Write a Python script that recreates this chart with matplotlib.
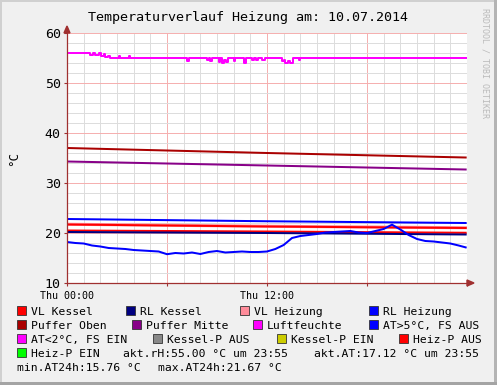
import numpy as np
import matplotlib
matplotlib.use("Agg")
import matplotlib.pyplot as plt
from matplotlib.patches import Rectangle, Polygon

W, H = 497, 385

# hours after Thu 00:00 (10.07.2014)
t_slow = [0.0, 12.0, 23.92]
rl_heizung = [22.8, 22.35, 22.0]
vl_heizung = [21.75, 21.35, 21.05]
vl_kessel = [21.7, 21.3, 21.0]
heiz_p_aus = [20.5, 20.3, 20.05]
rl_kessel = [20.2, 20.0, 19.7]
puffer_oben = [37.0, 36.0, 35.1]
puffer_mitte = [34.3, 33.5, 32.7]

# outside temperature
t_at = [0.0, 0.5, 1.0, 1.5, 2.0, 2.5, 3.0, 3.5, 4.0, 4.5, 5.0, 5.5,
        6.0, 6.5, 7.0, 7.5, 8.0, 8.5, 9.0, 9.5, 10.0, 10.5, 11.0, 11.5,
        12.0, 12.5, 13.0, 13.5, 14.0, 14.5, 15.0, 15.5, 16.0, 16.5, 17.0, 17.5,
        18.0, 18.5, 19.0, 19.5, 20.0, 20.5, 21.0, 21.5, 22.0, 22.5, 23.0, 23.5, 23.92]
aussen = [18.2, 18.0, 17.9, 17.5, 17.3, 17.0, 16.9, 16.8, 16.6, 16.5, 16.4, 16.3,
          15.76, 16.0, 15.9, 16.1, 15.8, 16.2, 16.4, 16.1, 16.2, 16.3, 16.2, 16.2,
          16.3, 16.8, 17.6, 19.0, 19.4, 19.6, 19.8, 20.1, 20.2, 20.3, 20.4, 20.1,
          20.0, 20.4, 20.8, 21.67, 20.7, 19.6, 18.8, 18.4, 18.3, 18.1, 17.9, 17.5, 17.12]

# relative humidity (step values)
t_rh = [0.0, 1.35, 1.55, 1.7, 1.9, 2.05, 2.2, 2.3, 2.45, 2.6, 3.1, 3.2, 3.7, 3.8,
        7.2, 7.3, 8.4, 8.5, 8.6, 8.7, 9.1, 9.2, 9.3, 9.45, 9.55, 9.65, 10.0, 10.1,
        10.65, 10.75, 11.1, 11.25, 11.35, 11.45, 11.7, 11.85, 12.9, 13.0, 13.1, 13.25,
        13.4, 13.55, 13.9, 14.0, 23.92]
rh = [56.0, 55.6, 56.0, 55.6, 56.0, 55.5, 55.8, 55.2, 55.5, 55.0, 55.4, 55.0, 55.4, 55.0,
      54.5, 55.0, 54.6, 55.0, 54.5, 55.0, 54.3, 55.0, 54.0, 54.6, 54.2, 55.0, 54.5, 55.0,
      54.0, 55.0, 54.6, 55.0, 54.7, 55.0, 54.7, 55.0, 54.4, 54.6, 54.0, 54.5,
      54.1, 55.0, 54.7, 55.0, 55.0]

legend_names = ["VL Kessel", "RL Kessel", "VL Heizung", "RL Heizung",
                "Puffer Oben", "Puffer Mitte", "Luftfeuchte", "AT>5°C, FS AUS",
                "AT<2°C, FS EIN", "Kessel-P AUS", "Kessel-P EIN", "Heiz-P AUS",
                "Heiz-P EIN"]
colors = {
    "VL Kessel": "#FF0000", "RL Kessel": "#000080", "VL Heizung": "#FF8C9A",
    "RL Heizung": "#0000FF", "Puffer Oben": "#AA0000", "Puffer Mitte": "#880088",
    "Luftfeuchte": "#FF00FF", "AT>5°C, FS AUS": "#0000FF", "AT<2°C, FS EIN": "#FF00FF",
    "Kessel-P AUS": "#888888", "Kessel-P EIN": "#CCCC00", "Heiz-P AUS": "#FF0000",
    "Heiz-P EIN": "#00FF00",
}

plt.rcParams['font.family'] = ['DejaVu Sans Mono', 'DejaVu Sans']


def px(x, y):
    return x / W, 1 - y / H


fig = plt.figure(figsize=(W / 100, H / 100), dpi=100, facecolor="#F0F0F0")
ax = fig.add_axes([67 / W, (H - 283) / H, 400 / W, 250 / H])
ax.set_facecolor("white")

lw = 1.44
ax.plot(t_slow, puffer_oben, color=colors["Puffer Oben"], lw=lw)
ax.plot(t_slow, puffer_mitte, color=colors["Puffer Mitte"], lw=lw)
ax.plot(t_slow, vl_heizung, color=colors["VL Heizung"], lw=2.2)
ax.plot(t_slow, vl_kessel, color=colors["VL Kessel"], lw=lw)
ax.plot(t_slow, heiz_p_aus, color=colors["Heiz-P AUS"], lw=lw)
ax.plot(t_slow, rl_kessel, color=colors["RL Kessel"], lw=lw)
ax.plot(t_slow, rl_heizung, color=colors["RL Heizung"], lw=lw)
ax.plot(t_at, aussen, color="#0000FF", lw=lw)
ax.plot(t_rh, rh, color=colors["Luftfeuchte"], lw=lw, drawstyle="steps-post")

ax.set_xlim(0, 24)
ax.set_ylim(10, 60)
ax.set_xticks(np.arange(0, 25, 6))
ax.set_xticks(np.arange(0, 25, 1), minor=True)
ax.set_xticklabels(["Thu 00:00", "", "Thu 12:00", "", ""])
ax.set_yticks(np.arange(10, 61, 10))
ax.set_yticks(np.arange(10, 61, 2), minor=True)
ax.grid(which="minor", color="#DDDDDD", lw=0.72)
ax.grid(which="major", color="#F5B0B0", lw=0.72)
ax.set_axisbelow(True)

axis_col = "#A03030"
for s in ("top", "right"):
    ax.spines[s].set_visible(False)
for s in ("left", "bottom"):
    ax.spines[s].set_color(axis_col)
    ax.spines[s].set_linewidth(0.9)
ax.tick_params(which="minor", length=0)
ax.tick_params(which="major", length=2.5, width=0.8, color=axis_col)
ax.tick_params(axis="y", labelsize=9.5, pad=2)
ax.tick_params(axis="x", labelsize=7.2, pad=3)

# axis arrows
fig.add_artist(Polygon([px(467, 280), px(474, 283), px(467, 286)], closed=True,
                       color=axis_col, transform=fig.transFigure))
fig.add_artist(Polygon([px(64, 33), px(67, 26), px(70, 33)], closed=True,
                       color=axis_col, transform=fig.transFigure))

fig.text(*px(247.5, 21), "Temperaturverlauf Heizung am: 10.07.2014",
         ha="center", va="baseline", fontsize=9.6)
fig.text(*px(14, 158), "°C", rotation=90, ha="center", va="center", fontsize=9)
fig.text(*px(485, 63), "RRDTOOL / TOBI OETIKER", rotation=270, ha="center",
         va="center", fontsize=6, color="#BBBBBB")

# legend
legend_pos = [
    (17, 311), (126, 311), (240, 311), (369, 311),
    (17, 325), (132, 325), (253, 325), (369, 325),
    (17, 339), (153, 339), (277, 339), (399, 339),
    (17, 353),
]
fs = 8.2
for name, (x, y) in zip(legend_names, legend_pos):
    x0, y0 = px(x, y + 4)
    fig.add_artist(Rectangle((x0, y0), 9 / W, 9 / H, facecolor=colors[name],
                             edgecolor="#333333", lw=0.6, transform=fig.transFigure))
    fig.text(*px(x + 14, y + 4), name, ha="left", va="baseline", fontsize=fs)

fig.text(*px(123, 357), "akt.rH:55.00 °C um 23:55", ha="left", va="baseline", fontsize=fs)
fig.text(*px(314, 357), "akt.AT:%.2f °C um 23:55" % aussen[-1], ha="left",
         va="baseline", fontsize=fs)
fig.text(*px(17, 371), "min.AT24h:%.2f °C" % min(aussen), ha="left", va="baseline", fontsize=fs)
fig.text(*px(158, 371), "max.AT24h:%.2f °C" % max(aussen), ha="left", va="baseline", fontsize=fs)

# frame
for (x, y, w, h, c) in [(0, 0, W, 2, "#D0D0D0"), (0, 0, 2, H, "#D0D0D0"),
                        (W - 3, 0, 3, H, "#B4B4B4"), (0, H - 3, W, 3, "#A4A4A4")]:
    fx, fy = px(x, y + h)
    fig.add_artist(Rectangle((fx, fy), w / W, h / H, facecolor=c, edgecolor="none",
                             transform=fig.transFigure))

fig.savefig("out.png", dpi=100, facecolor=fig.get_facecolor())
